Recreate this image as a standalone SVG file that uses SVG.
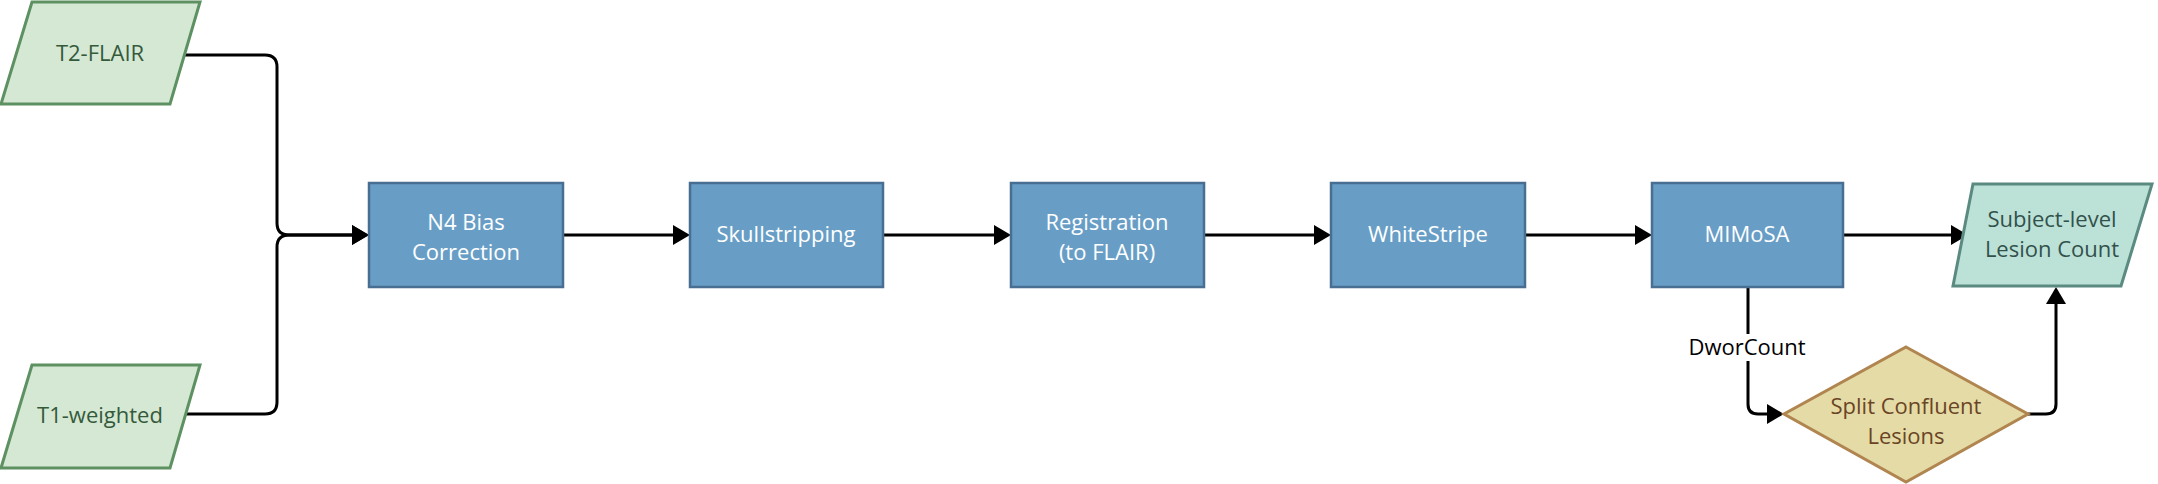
<svg xmlns="http://www.w3.org/2000/svg" width="2158" height="484" viewBox="0 0 2158 484">
  <defs>
    <style>
      .box { fill: #689ec6; stroke: #486e91; stroke-width: 2.5; }
      .input { fill: #d4e8d4; stroke: #5e9162; stroke-width: 3; }
      .output { fill: #bce2d8; stroke: #5b8a80; stroke-width: 3; }
      .dec { fill: #e5dba6; stroke: #b0854f; stroke-width: 3; }
      .t { font-family: "Open Sans", "Liberation Sans", sans-serif; font-size: 22px; text-anchor: middle; }
      .tw { fill: #ffffff; }
      .tg { fill: #355a3b; }
      .tt { fill: #33514b; }
      .tb { fill: #6a4525; }
      .tk { fill: #000000; }
      .edge { fill: none; stroke: #000000; stroke-width: 3; marker-end: url(#arrow); }
    </style>
    <marker id="arrow" markerUnits="userSpaceOnUse" markerWidth="18" markerHeight="22" refX="0" refY="10" orient="auto" overflow="visible">
      <path d="M0,0 L17,10 L0,20 Z" fill="#000000"/>
    </marker>
  </defs>

  <g id="connectors">
    <path class="edge" d="M185,55 H265 Q277,55 277,67 V223 Q277,235 289,235 H352"/>
    <path class="edge" d="M185,414 H265 Q277,414 277,402 V247 Q277,235 289,235 H352"/>
    <path class="edge" d="M563,235 H673"/>
    <path class="edge" d="M883,235 H994"/>
    <path class="edge" d="M1204,235 H1314"/>
    <path class="edge" d="M1525,235 H1635"/>
    <path class="edge" d="M1843,235 H1951"/>
    <path class="edge" d="M1748,287 V404 Q1748,414 1758,414 H1767"/>
    <path class="edge" d="M2028,414 H2046 Q2056,414 2056,404 V304"/>
    <g id="label-dworcount">
      <rect x="1686" y="334" width="122" height="27" fill="#ffffff"/>
      <text class="t tk" x="1747" y="355">DworCount</text>
    </g>
  </g>

  <g id="t2flair">
    <polygon class="input" points="32,2 200,2 170,104 1,104"/>
    <text class="t tg" x="100" y="61">T2-FLAIR</text>
  </g>
  <g id="t1weighted">
    <polygon class="input" points="32,365 200,365 170,468 1,468"/>
    <text class="t tg" x="100" y="423">T1-weighted</text>
  </g>

  <g id="n4">
    <rect class="box" x="369" y="183" width="194" height="104"/>
    <text class="t tw" x="466" y="230">N4 Bias</text>
    <text class="t tw" x="466" y="260">Correction</text>
  </g>
  <g id="skullstripping">
    <rect class="box" x="690" y="183" width="193" height="104"/>
    <text class="t tw" x="786" y="242">Skullstripping</text>
  </g>
  <g id="registration">
    <rect class="box" x="1011" y="183" width="193" height="104"/>
    <text class="t tw" x="1107" y="230">Registration</text>
    <text class="t tw" x="1107" y="260">(to FLAIR)</text>
  </g>
  <g id="whitestripe">
    <rect class="box" x="1331" y="183" width="194" height="104"/>
    <text class="t tw" x="1428" y="242">WhiteStripe</text>
  </g>
  <g id="mimosa">
    <rect class="box" x="1652" y="183" width="191" height="104"/>
    <text class="t tw" x="1747" y="242">MIMoSA</text>
  </g>

  <g id="subject-count">
    <polygon class="output" points="1973,184 2152,184 2121,286 1953,286"/>
    <text class="t tt" x="2052" y="227">Subject-level</text>
    <text class="t tt" x="2052" y="257">Lesion Count</text>
  </g>

  <g id="split">
    <polygon class="dec" points="1906,347 2028,414 1906,482 1784,414"/>
    <text class="t tb" x="1906" y="414">Split Confluent</text>
    <text class="t tb" x="1906" y="444">Lesions</text>
  </g>
</svg>
